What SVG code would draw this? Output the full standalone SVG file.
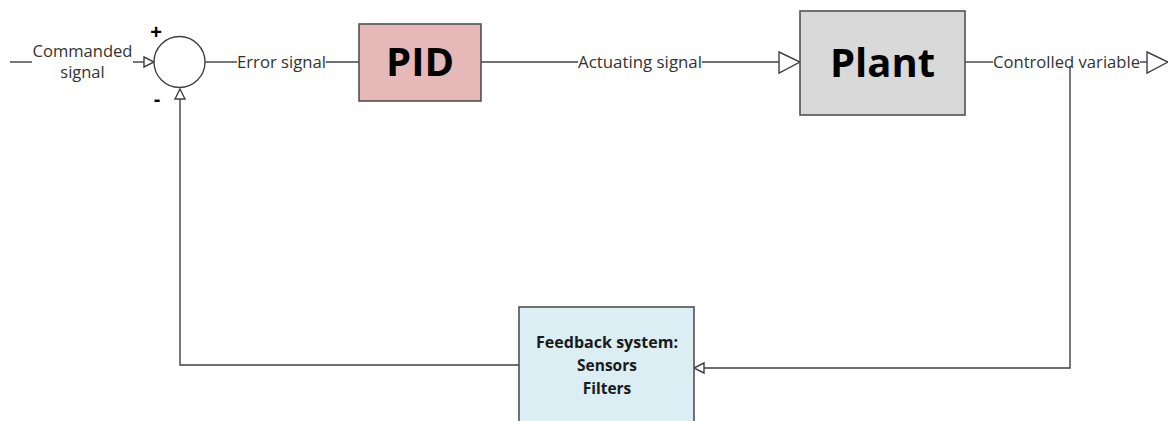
<svg xmlns="http://www.w3.org/2000/svg" width="1168" height="421" viewBox="0 0 1168 421">
<style>
.ln{fill:none;stroke:#404040;stroke-width:1.4}
.ah{fill:#ffffff;stroke:#404040;stroke-width:1.4;stroke-linejoin:miter}
.lbl{font-family:"Open Sans","Liberation Sans",sans-serif;font-size:16.5px;fill:#333333}
.big{font-family:"Open Sans","Liberation Sans",sans-serif;font-size:40px;font-weight:bold;fill:#000000;text-anchor:middle}
.fb{font-family:"Open Sans","Liberation Sans",sans-serif;font-size:15.5px;font-weight:bold;fill:#1a1a1a;text-anchor:middle}
.box{stroke:#505050;stroke-width:1.6}
.sign{font-family:"Liberation Sans",sans-serif;font-size:20px;font-weight:bold;fill:#000000;text-anchor:middle}
</style>
<rect width="1168" height="421" fill="#ffffff"/>
<g id="connectors">
  <line class="ln" x1="10" y1="62" x2="32" y2="62"/>
  <line class="ln" x1="133" y1="62" x2="144" y2="62"/>
  <polygon class="ah" points="144,57 154,62 144,67"/>
  <text class="lbl" x="82.5" y="57" text-anchor="middle" textLength="100" lengthAdjust="spacingAndGlyphs">Commanded</text>
  <text class="lbl" x="82.5" y="78" text-anchor="middle">signal</text>
  <line class="ln" x1="205" y1="62" x2="237" y2="62"/>
  <line class="ln" x1="326" y1="62" x2="359" y2="62"/>
  <text class="lbl" x="237" y="68" textLength="89" lengthAdjust="spacingAndGlyphs">Error signal</text>
  <line class="ln" x1="481" y1="62" x2="578" y2="62"/>
  <line class="ln" x1="702" y1="62" x2="779" y2="62"/>
  <polygon class="ah" points="779,52 800,62 779,73"/>
  <text class="lbl" x="578" y="68" textLength="124" lengthAdjust="spacingAndGlyphs">Actuating signal</text>
  <line class="ln" x1="965" y1="62" x2="993" y2="62"/>
  <line class="ln" x1="1140" y1="62" x2="1147" y2="62"/>
  <polygon class="ah" points="1147,52 1168,62 1147,73"/>
  <text class="lbl" x="993" y="68" textLength="147" lengthAdjust="spacingAndGlyphs">Controlled variable</text>
  <polyline class="ln" points="1070,66 1070,368 704,368"/>
  <polygon class="ah" points="704,363 694,368 704,373"/>
  <polyline class="ln" points="519,365 180,365 180,99"/>
  <polygon class="ah" points="175,99 180,89 185,99"/>
</g>
<g id="summer">
  <circle cx="179.5" cy="62" r="25.5" fill="#ffffff" stroke="#404040" stroke-width="1.4"/>
  <text class="sign" x="156" y="39">+</text>
  <text class="sign" x="157" y="106">-</text>
</g>
<g id="pid">
  <rect class="box" x="359" y="24" width="122" height="77" fill="#e6b8b7"/>
  <text class="big" x="420" y="76">PID</text>
</g>
<g id="plant">
  <rect class="box" x="800" y="11" width="165" height="104" fill="#d9d9d9"/>
  <text class="big" x="882.5" y="77">Plant</text>
</g>
<g id="feedback">
  <rect class="box" x="519" y="307" width="175" height="130" fill="#dbeef3"/>
  <text class="fb" x="607" y="348" textLength="142" lengthAdjust="spacingAndGlyphs">Feedback system:</text>
  <text class="fb" x="607" y="371">Sensors</text>
  <text class="fb" x="607" y="394">Filters</text>
</g>
</svg>
